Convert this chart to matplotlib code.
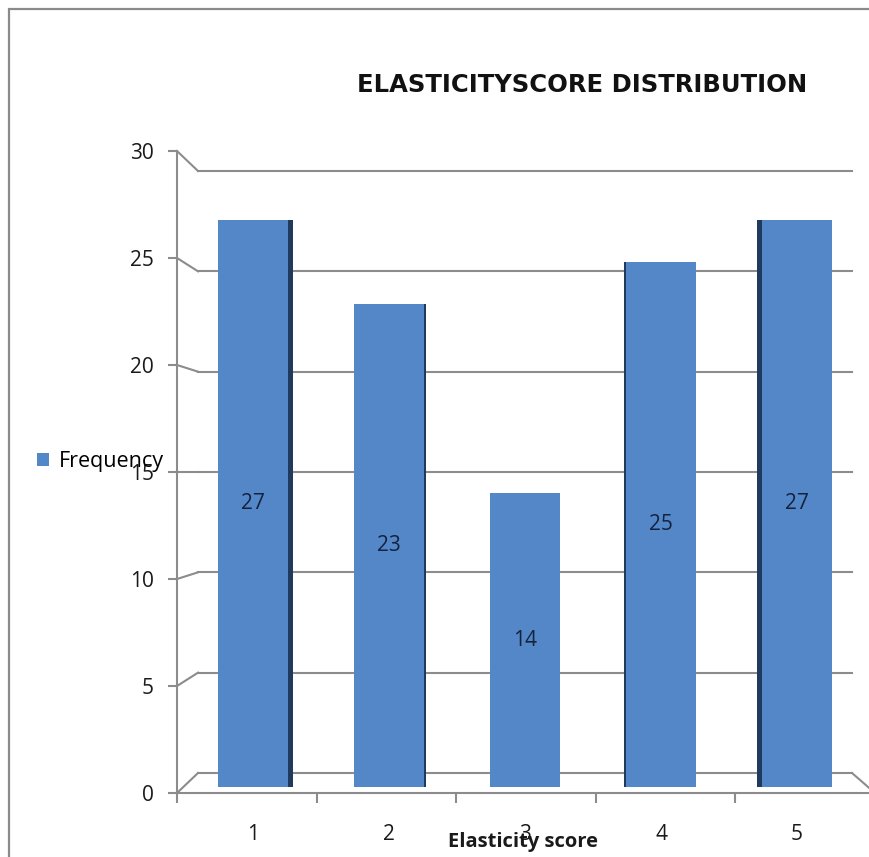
import numpy as np
import matplotlib
matplotlib.use("Agg")
import matplotlib.pyplot as plt
from matplotlib.lines import Line2D
from matplotlib.patches import Rectangle

# ---- data ----
categories = [1, 2, 3, 4, 5]
category_labels = ["1", "2", "3", "4", "5"]
frequency = [27, 23, 14, 25, 27]
y_ticks = [0, 5, 10, 15, 20, 25, 30]
series_name = "Frequency"
title = "ELASTICITYSCORE DISTRIBUTION"
x_title = "Elasticity score"

# ---- style ----
W, H = 869, 857
GRID = "#8c8c8c"
FACE = "#5487c8"
SIDE = "#1f3a5c"
LABEL_COLOR = "#14223d"
TEXT = "#1a1a1a"
BODY_FONT = ["Open Sans", "DejaVu Sans"]

fig = plt.figure(figsize=(W / 100, H / 100), dpi=100)
fig.patch.set_facecolor("white")


def box(left, top, right, bottom):
    """Axes rectangle from pixel edges (origin top-left)."""
    return [left / W, 1 - bottom / H, (right - left) / W, (bottom - top) / H]


# outer chart border
fig.add_artist(Rectangle((9 / W, -0.1), 1.2, 1.1 - 9 / H, transform=fig.transFigure,
                         fill=False, edgecolor="#8a8a8a", lw=1.6))

# back wall with horizontal gridlines
ax_back = fig.add_axes(box(198, 171, 852, 773))
ax_back.set_xlim(0, 1)
ax_back.set_ylim(0, 30)
ax_back.axis("off")
for v in y_ticks:
    ax_back.axhline(v, color=GRID, lw=1.5, clip_on=False)

# front value axis and category axis line
ax_front = fig.add_axes(box(177, 151, 875, 793))
ax_front.set_facecolor("none")
ax_front.set_xlim(0.5, 5.5)
ax_front.set_ylim(0, 30)
for s in ("top", "right"):
    ax_front.spines[s].set_visible(False)
for s in ("left", "bottom"):
    ax_front.spines[s].set_color(GRID)
    ax_front.spines[s].set_linewidth(1.5)
ax_front.set_yticks(y_ticks)
ax_front.set_yticklabels([str(v) for v in y_ticks])
ax_front.tick_params(axis="y", length=6.5, width=1.5, color=GRID, pad=10,
                     labelsize=15, labelcolor=TEXT)
ax_front.set_xticks([])
ax_front.set_xticks([c - 0.5 for c in categories] + [categories[-1] + 0.5], minor=True)
ax_front.tick_params(axis="x", which="minor", length=7.5, width=1.5, color=GRID)
for lab in ax_front.get_yticklabels():
    lab.set_family(BODY_FONT)
ax_front.set_xlabel(x_title, family=BODY_FONT, fontweight="bold", fontsize=14.5, color=TEXT)
ax_front.xaxis.set_label_coords((523 - 177) / 698, (793 - 842) / 642)
ax_front.xaxis.label.set_va("center")

# columns
ax_bars = fig.add_axes(box(185, 157, 865, 787))
ax_bars.set_facecolor("none")
ax_bars.set_xlim(0.5, 5.5)
ax_bars.set_ylim(0, 30)
for s in ax_bars.spines.values():
    s.set_visible(False)
ax_bars.set_yticks([])
ax_bars.set_xticks(categories)
ax_bars.set_xticklabels(category_labels)
ax_bars.tick_params(axis="x", length=0, pad=27, labelsize=15, labelcolor=TEXT)
for lab in ax_bars.get_xticklabels():
    lab.set_family(BODY_FONT)

bar_w = 0.515
x = np.array(categories, dtype=float)
centre = x.mean()
side_w = np.abs(x - centre) * 0.017
side_x = x - np.sign(x - centre) * (bar_w / 2 + side_w / 2)
ax_bars.bar(side_x, frequency, width=side_w, color=SIDE, linewidth=0)
bars = ax_bars.bar(x, frequency, width=bar_w, color=FACE, linewidth=0, label=series_name)
ax_bars.bar_label(bars, labels=[str(v) for v in frequency], label_type="center",
                  fontsize=15, color=LABEL_COLOR, family=BODY_FONT)

# depth connectors from the front axis to the back wall
to_fig = fig.transFigure.inverted()
for v in y_ticks:
    p0 = ax_front.transData.transform((0.5, v))
    p1 = ax_back.transData.transform((0, v))
    (a, b) = to_fig.transform([p0, p1])
    fig.add_artist(Line2D([a[0], b[0]], [a[1], b[1]], color=GRID, lw=1.5,
                          transform=fig.transFigure))
# right edge of the floor
p0 = ax_back.transData.transform((1, 0))
p1 = ax_front.transData.transform((5.5, 0))
(a, b) = to_fig.transform([p0, p1])
fig.add_artist(Line2D([a[0], b[0]], [a[1], b[1]], color=GRID, lw=1.5,
                      transform=fig.transFigure))

# legend
fig.legend(handles=[bars], labels=[series_name], loc="center left",
           bbox_to_anchor=(37 / W, 1 - 462 / H), frameon=False,
           handlelength=0.55, handleheight=0.55, handletextpad=0.45,
           borderpad=0, borderaxespad=0,
           prop={"family": BODY_FONT, "size": 15.5})

# title
fig.text(582 / W, 1 - 85 / H, title, ha="center", va="center",
         fontsize=17.5, fontweight="bold", family="DejaVu Sans", color="#111111")

fig.savefig("out.png", dpi=100)
